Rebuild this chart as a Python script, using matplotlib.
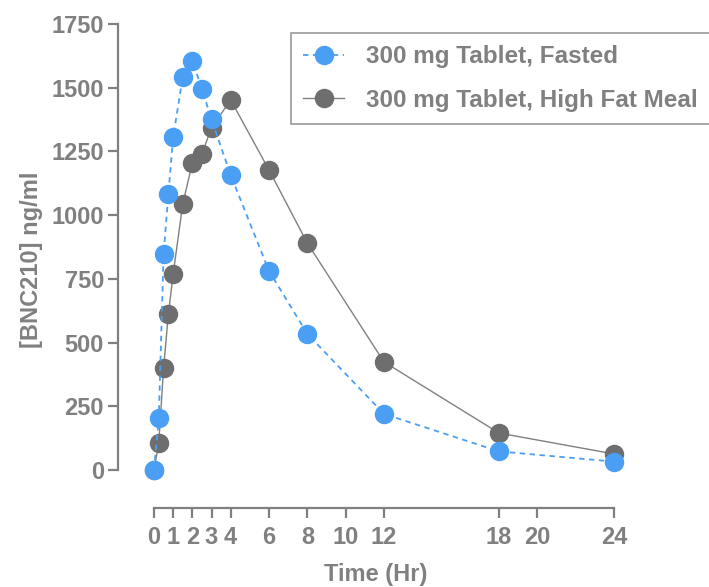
import numpy as np
import matplotlib.pyplot as plt

plt.rcParams['font.family'] = ['Liberation Sans', 'DejaVu Sans']
plt.rcParams['font.weight'] = 'bold'

# time points (hr)
time_fasted = [0, 0.25, 0.5, 0.75, 1, 1.5, 2, 2.5, 3, 4, 6, 8, 12, 18, 24]
conc_fasted = [0, 204, 847, 1083, 1306, 1542, 1605, 1495, 1375, 1157, 781, 534, 220, 73, 33]

time_fed = [0, 0.25, 0.5, 0.75, 1, 1.5, 2, 2.5, 3, 4, 6, 8, 12, 18, 24]
conc_fed = [0, 106, 400, 612, 769, 1044, 1204, 1240, 1342, 1452, 1177, 890, 424, 145, 63]

xticks = [0, 1, 2, 3, 4, 6, 8, 10, 12, 18, 20, 24]
yticks = [0, 250, 500, 750, 1000, 1250, 1500, 1750]

grey = '#808080'
blue = '#4a9ff5'

fig = plt.figure(figsize=(7.09, 5.87), dpi=100)
ax = fig.add_axes([0.1664, 0.1346, 0.893 - 0.1664, 0.981 - 0.1346])

ax.plot(time_fasted, conc_fasted, '--', color=blue, linewidth=1.3, dashes=(3, 2.5),
        marker='o', markersize=13, markerfacecolor=blue, markeredgecolor=blue,
        label='300 mg Tablet, Fasted', zorder=3)
ax.plot(time_fed, conc_fed, '-', color=grey, linewidth=1.0,
        marker='o', markersize=13, markerfacecolor='#6e6e6e', markeredgecolor='#6e6e6e',
        label='300 mg Tablet, High Fat Meal', zorder=2)

ax.set_xlim(-1.88, 25)
ax.set_ylim(-149, 1800)
ax.set_xticks(xticks)
ax.set_yticks(yticks)

for s in ['top', 'right']:
    ax.spines[s].set_visible(False)
for s in ['left', 'bottom']:
    ax.spines[s].set_color(grey)
    ax.spines[s].set_linewidth(1.6)
ax.spines['left'].set_bounds(0, 1750)
ax.spines['bottom'].set_bounds(0, 24)

ax.tick_params(axis='both', colors=grey, width=1.6, labelsize=17, labelcolor=grey)
ax.tick_params(axis='y', length=7, pad=3)
ax.tick_params(axis='x', length=7, pad=6)

ax.set_xlabel('Time (Hr)', fontsize=17, color=grey, fontweight='bold', labelpad=10)
ax.set_ylabel('[BNC210] ng/ml', fontsize=17, color=grey, fontweight='bold', labelpad=6)

leg = ax.legend(loc='upper left', bbox_to_anchor=(291 / 709, 1 - 33 / 587),
                bbox_transform=fig.transFigure, frameon=True, fancybox=False,
                edgecolor=grey, fontsize=17.5, labelspacing=0.85, handlelength=1.7,
                handletextpad=0.9, borderpad=0.5, borderaxespad=0, markerscale=1.0)
leg.get_frame().set_linewidth(1.2)
for t in leg.get_texts():
    t.set_color(grey)

fig.savefig('out.png', dpi=100)
